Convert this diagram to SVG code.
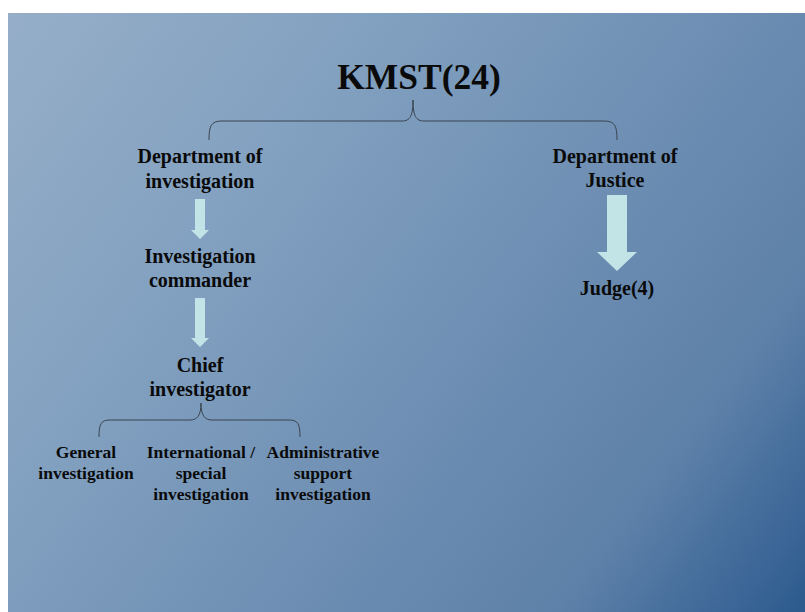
<svg xmlns="http://www.w3.org/2000/svg" width="805" height="612" viewBox="0 0 805 612">
<style>
.t{font-family:"Liberation Serif","Times New Roman",serif;font-weight:bold;fill:#0a0a0a;text-anchor:middle}
.h{font-size:35.5px}
.m{font-size:20px}
.s{font-size:17.5px}
.br{fill:none;stroke:#3a4450;stroke-width:1}
.ar{fill:#c2e4e7}
</style>
<defs>
<linearGradient id="bg" gradientUnits="userSpaceOnUse" x1="8" y1="13" x2="805" y2="612">
<stop offset="0" stop-color="#96aec8"/>
<stop offset="0.33" stop-color="#809fbf"/>
<stop offset="0.62" stop-color="#6b8cb1"/>
<stop offset="0.8" stop-color="#5e81a9"/>
<stop offset="1" stop-color="#2c5a8e"/>
</linearGradient>
</defs>
<rect x="0" y="0" width="805" height="612" fill="#ffffff"/>
<rect x="8" y="13" width="797" height="599" fill="url(#bg)"/>
<g id="connectors">
<path class="br" d="M209,140 C209,126 211,121 222,121 L402,121 C410,121 413,116 413,100 C413,116 416,121 424,121 L604,121 C615,121 617,126 617,140"/>
<path class="br" d="M99,437 C99,424 101,420 110,420 L190,420 C197,420 201,416 201,403 C201,416 205,420 212,420 L289,420 C298,420 300,424 300,437"/>
<path class="ar" d="M195,199 H205 V230 H209 L200,239 L191,230 H195 Z"/>
<path class="ar" d="M195,298 H205 V338 H209 L200,347 L191,338 H195 Z"/>
<path class="ar" d="M607,195 H627 V252 H637 L617,271 L597,252 H607 Z"/>
</g>
<g id="kmst"><text class="t h" x="419" y="89">KMST(24)</text></g>
<g id="dept-investigation"><text class="t m" x="200" y="163">Department of</text><text class="t m" x="200" y="188">investigation</text></g>
<g id="investigation-commander"><text class="t m" x="200" y="263">Investigation</text><text class="t m" x="200" y="287">commander</text></g>
<g id="chief-investigator"><text class="t m" x="200" y="372">Chief</text><text class="t m" x="200" y="396">investigator</text></g>
<g id="general"><text class="t s" x="86" y="458">General</text><text class="t s" x="86" y="479">investigation</text></g>
<g id="international"><text class="t s" x="201" y="458">International /</text><text class="t s" x="201" y="479">special</text><text class="t s" x="201" y="500">investigation</text></g>
<g id="administrative"><text class="t s" x="323" y="458">Administrative</text><text class="t s" x="323" y="479">support</text><text class="t s" x="323" y="500">investigation</text></g>
<g id="dept-justice"><text class="t m" x="615" y="163">Department of</text><text class="t m" x="615" y="187">Justice</text></g>
<g id="judge"><text class="t m" x="617" y="295">Judge(4)</text></g>
</svg>
